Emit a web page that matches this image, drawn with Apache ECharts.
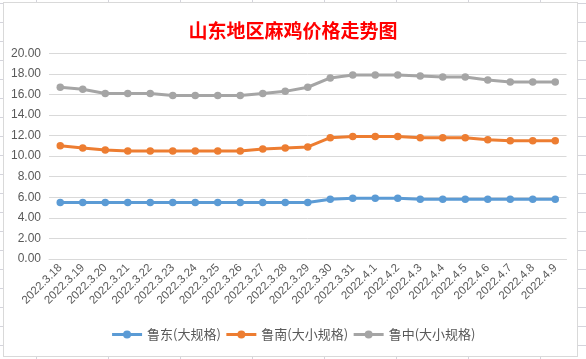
<!DOCTYPE html>
<html>
<head>
<meta charset="utf-8">
<script src="https://cdn.jsdelivr.net/npm/echarts@6/dist/echarts.min.js"></script>
<style>
  html, body { margin: 0; padding: 0; background: #fff; }
  #sheet {
    position: absolute; left: 0; top: 0; width: 586px; height: 359px;
    background-color: #fff;
    background-image:
      repeating-linear-gradient(to right, transparent 0, transparent 36px, #d4d4dc 36px, #d4d4dc 37px, transparent 37px, transparent 72px),
      repeating-linear-gradient(to bottom, transparent 0, transparent 3px, #d4d4dc 3px, #d4d4dc 4px, transparent 4px, transparent 19px);
  }
  #frame {
    position: absolute; left: 3px; top: 2px; width: 575px; height: 355px;
    box-sizing: border-box; border: 1px solid #d9d9d9; background: #fff;
  }
  #chart { position: absolute; left: 0; top: 0; width: 586px; height: 359px; }
</style>
</head>
<body>
<div id="sheet"></div>
<div id="frame"></div>
<div id="chart"></div>
<script>
const titleText = '山东地区麻鸡价格走势图';
const categories = ['2022.3.18','2022.3.19','2022.3.20','2022.3.21','2022.3.22','2022.3.23','2022.3.24','2022.3.25','2022.3.26','2022.3.27','2022.3.28','2022.3.29','2022.3.30','2022.3.31','2022.4.1','2022.4.2','2022.4.3','2022.4.4','2022.4.5','2022.4.6','2022.4.7','2022.4.8','2022.4.9'];
const seriesNames = ['鲁东(大规格)', '鲁南(大小规格)', '鲁中(大小规格)'];
const ludong = [5.5,5.5,5.5,5.5,5.5,5.5,5.5,5.5,5.5,5.5,5.5,5.5,5.8,5.9,5.9,5.9,5.8,5.8,5.8,5.8,5.8,5.8,5.8];
const lunan = [11.0,10.8,10.6,10.5,10.5,10.5,10.5,10.5,10.5,10.7,10.8,10.9,11.8,11.9,11.9,11.9,11.8,11.8,11.8,11.6,11.5,11.5,11.5];
const luzhong = [16.7,16.5,16.1,16.1,16.1,15.9,15.9,15.9,15.9,16.1,16.3,16.7,17.6,17.9,17.9,17.9,17.8,17.7,17.7,17.4,17.2,17.2,17.2];
const colors = ['#5b9bd5', '#ed7d31', '#a5a5a5'];
const dataSets = [ludong, lunan, luzhong];

const chart = echarts.init(document.getElementById('chart'), null, { renderer: 'canvas' });
chart.setOption({
  backgroundColor: 'transparent',
  animation: false,
  color: colors,
  title: {
    text: titleText,
    left: 'center',
    top: 16,
    textStyle: { color: '#ff0000', fontSize: 19, fontWeight: 'bold', fontFamily: 'Noto Sans CJK SC' }
  },
  legend: {
    bottom: 13,
    left: 'center',
    itemWidth: 30,
    itemHeight: 10,
    itemGap: 4,
    lineStyle: { width: 3 },
    textStyle: { color: '#595959', fontSize: 13, fontFamily: 'Noto Sans CJK SC' },
    data: seriesNames
  },
  grid: { left: 49, right: 19.5, top: 53.3, bottom: 100, containLabel: false },
  xAxis: {
    type: 'category',
    data: categories,
    boundaryGap: true,
    axisLine: { show: true, lineStyle: { color: '#d9d9d9', width: 1 } },
    axisTick: { show: false },
    axisLabel: { rotate: 45, interval: 0, margin: 7, color: '#595959', fontSize: 11.5, fontFamily: 'Liberation Sans' }
  },
  yAxis: {
    type: 'value',
    min: 0, max: 20, interval: 2,
    axisLine: { show: false },
    axisTick: { show: false },
    splitLine: { lineStyle: { color: '#d9d9d9', width: 1 } },
    axisLabel: { color: '#595959', fontSize: 12, margin: 8, fontFamily: 'Liberation Sans', formatter: v => v.toFixed(2) }
  },
  series: seriesNames.map((n, i) => ({
    name: n,
    type: 'line',
    data: dataSets[i],
    symbol: 'circle',
    symbolSize: 7.5,
    lineStyle: { width: 3, color: colors[i] },
    itemStyle: { color: colors[i] }
  }))
});
</script>
</body>
</html>
